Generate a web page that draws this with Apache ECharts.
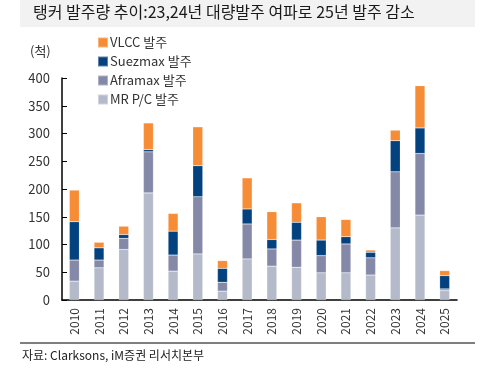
<!DOCTYPE html>
<html>
<head>
<meta charset="utf-8">
<script src="https://cdn.jsdelivr.net/npm/echarts@6/dist/echarts.min.js"></script>
<style>
html,body{margin:0;padding:0;background:#fff;}
#c{width:499px;height:370px;}
</style>
</head>
<body>
<div id="c"></div>
<script>
const years = ['2010','2011','2012','2013','2014','2015','2016','2017','2018','2019','2020','2021','2022','2023','2024','2025'];
const mrPC    = [34, 58, 91, 193, 52, 83, 16, 74, 61, 59, 49, 49, 45, 130, 153, 17];
const aframax = [38, 14, 20, 74, 29, 103, 16, 63, 31, 49, 31, 52, 31, 101, 111, 3];
const suezmax = [69, 22, 7, 4, 43, 56, 25, 27, 17, 32, 28, 13, 10, 56, 46, 24];
const vlcc    = [57, 10, 15, 48, 32, 70, 14, 56, 50, 35, 42, 31, 4, 19, 76, 9];
const yTicks = [0, 50, 100, 150, 200, 250, 300, 350, 400];

const FONT = '"Noto Sans CJK KR", "Noto Sans", sans-serif';
const chart = echarts.init(document.getElementById('c'), null, {renderer:'canvas'});
function s(name, data, color){
  return {name:name, type:'bar', stack:'t', data:data, barWidth:10,
    itemStyle:{color:color, borderColor:'rgba(255,255,255,0.35)', borderWidth:0.5}};
}
chart.setOption({
  animation:false,
  textStyle:{fontFamily:FONT},
  graphic:[
    {type:'rect', shape:{x:20,y:0,width:455,height:27}, style:{fill:'#f2f2f2'}},
    {type:'text', left:33, top:4, style:{text:'탱커 발주량 추이:23,24년 대량발주 여파로 25년 발주 감소', font:'16px '+FONT, fill:'#1a1a1a'}},
    {type:'text', left:30, top:45, style:{text:'(척)', font:'13px '+FONT, fill:'#333'}},
    {type:'line', shape:{x1:20,y1:343,x2:475,y2:343}, style:{stroke:'#000', lineWidth:1}},
    {type:'text', left:22, top:349, style:{text:'자료: Clarksons, iM증권 리서치본부', font:'12px '+FONT, fill:'#222'}}
  ],
  legend:{
    orient:'vertical', left:92, top:31, itemWidth:10, itemHeight:10, itemGap:6,
    icon:'rect', textStyle:{fontSize:13, color:'#333', fontFamily:FONT, padding:[0,0,0,-3]},
    data:['VLCC 발주','Suezmax 발주','Aframax 발주','MR P/C 발주']
  },
  grid:{left:62, right:42, top:78, bottom:70},
  xAxis:{
    type:'category', data:years, boundaryGap:true,
    axisLine:{lineStyle:{color:'#000', width:1.5}},
    axisTick:{inside:true, length:5, lineStyle:{color:'#000'}},
    axisLabel:{rotate:90, fontSize:12, color:'#333', margin:8}
  },
  yAxis:{
    type:'value', min:0, max:400, interval:50,
    axisLine:{show:true, lineStyle:{color:'#000', width:1.5}},
    axisTick:{show:true, inside:true, length:5, lineStyle:{color:'#000'}},
    splitLine:{show:false},
    axisLabel:{fontSize:13, color:'#333', margin:12,
      formatter:function(v){return yTicks.indexOf(v)>=0 ? String(v) : '';}}
  },
  series:[
    s('MR P/C 발주', mrPC, '#B4BAC9'),
    s('Aframax 발주', aframax, '#8589A8'),
    s('Suezmax 발주', suezmax, '#03427F'),
    s('VLCC 발주', vlcc, '#F78C36')
  ]
});
</script>
</body>
</html>
